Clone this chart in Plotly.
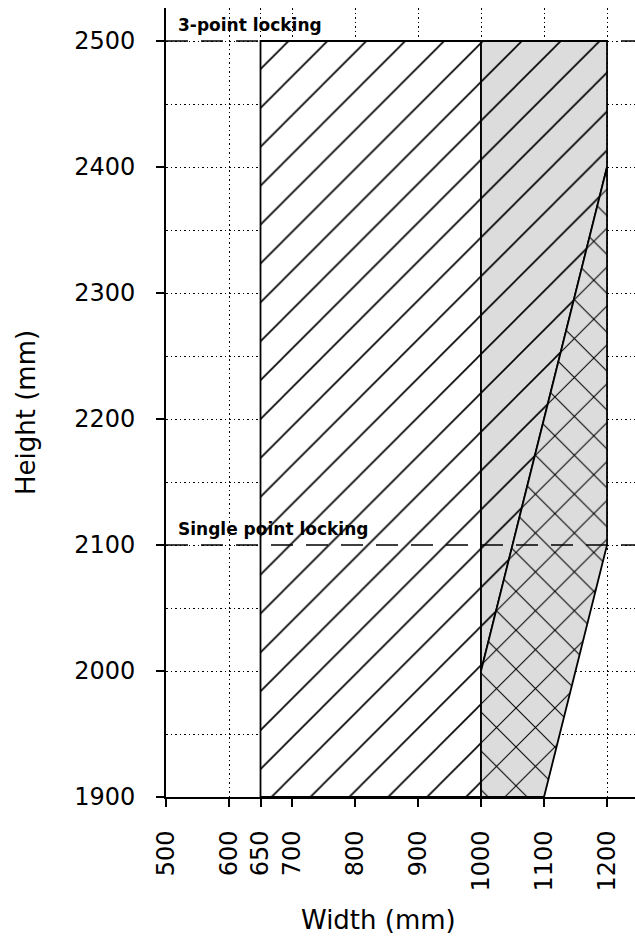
import plotly.graph_objects as go

# Axis ticks (mm)
x_ticks = [500, 600, 650, 700, 800, 900, 1000, 1100, 1200]
y_ticks = [1900, 2000, 2100, 2200, 2300, 2400, 2500]

# Door size regions (width, height in mm)
single_x = [650, 1000, 1000, 650]
single_y = [1900, 1900, 2500, 2500]

upper_x = [1000, 1200, 1200, 1000]
upper_y = [2000, 2400, 2500, 2500]

cross_x = [1000, 1100, 1200, 1200, 1000]
cross_y = [1900, 1900, 2100, 2400, 2000]

# Locking limits
lock_heights = [2100, 2500]
lock_labels = ["Single point locking", "3-point locking"]

FONT = "DejaVu Sans"
GREY = "#dcdcdc"

W, H = 635, 936
ML, MR, MT, MB = 166, 0, 8, 139
pw, ph = W - ML - MR, H - MT - MB

fig = go.Figure()


def region(xs, ys, shape, bg, solidity):
    fig.add_trace(go.Scatter(
        x=xs + xs[:1], y=ys + ys[:1], mode="lines",
        line=dict(color="black", width=1.8),
        fill="toself", fillcolor=bg,
        fillpattern=dict(shape=shape, size=27.5, solidity=solidity,
                         fgcolor="black", bgcolor=bg, fillmode="replace"),
        hoverinfo="skip", showlegend=False,
    ))


region(single_x, single_y, "/", "white", 0.06)
region(upper_x, upper_y, "/", GREY, 0.06)
region(cross_x, cross_y, "x", GREY, 0.075)

for h, label in zip(lock_heights, lock_labels):
    fig.add_shape(type="line", xref="paper", x0=0, x1=1, yref="y", y0=h, y1=h,
                  line=dict(color="black", width=1.6, dash="22px,13px"), layer="above")
    fig.add_annotation(x=516, y=h, xref="x", yref="y", text="<b>" + label + "</b>",
                       showarrow=False, xanchor="left", yanchor="bottom", yshift=4,
                       font=dict(family=FONT, size=17, color="black"))


def px_to_paper(px, py):
    return (px - ML) / pw, (H - MB - py) / ph


tx, ty = px_to_paper(378, 920)
fig.add_annotation(x=tx, y=ty, xref="paper", yref="paper", text="Width (mm)",
                   showarrow=False, xanchor="center", yanchor="middle",
                   font=dict(family=FONT, size=26, color="black"))
tx, ty = px_to_paper(26, 413)
fig.add_annotation(x=tx, y=ty, xref="paper", yref="paper", text="Height (mm)",
                   textangle=-90, showarrow=False, xanchor="center", yanchor="middle",
                   font=dict(family=FONT, size=26, color="black"))

grid = dict(showgrid=True, gridcolor="black", gridwidth=1, griddash="1.5px,3px")

fig.update_xaxes(range=[500, 1244.4], tickvals=x_ticks, ticktext=[str(v) for v in x_ticks],
                 tickangle=-90, ticks="outside", ticklen=8, tickwidth=1.5, tickcolor="black",
                 ticklabelstandoff=14,
                 showline=True, linecolor="black", linewidth=1.8, zeroline=False,
                 tickfont=dict(family=FONT, size=24, color="black"), **grid)
fig.update_yaxes(range=[1900, 2526.2], tickvals=y_ticks, ticks="outside", ticklen=8,
                 tickwidth=1.5, tickcolor="black", showline=True, linecolor="black",
                 linewidth=1.8, zeroline=False, ticklabelstandoff=16,
                 tickfont=dict(family=FONT, size=24, color="black"),
                 minor=dict(dtick=50, tick0=1900, showgrid=True, gridcolor="black",
                            gridwidth=1, griddash="1.5px,3px", ticks=""),
                 **grid)

fig.update_layout(width=W, height=H, margin=dict(l=ML, r=MR, t=MT, b=MB),
                  paper_bgcolor="white", plot_bgcolor="white",
                  font=dict(family=FONT, color="black"))

fig.write_html("out.html")
